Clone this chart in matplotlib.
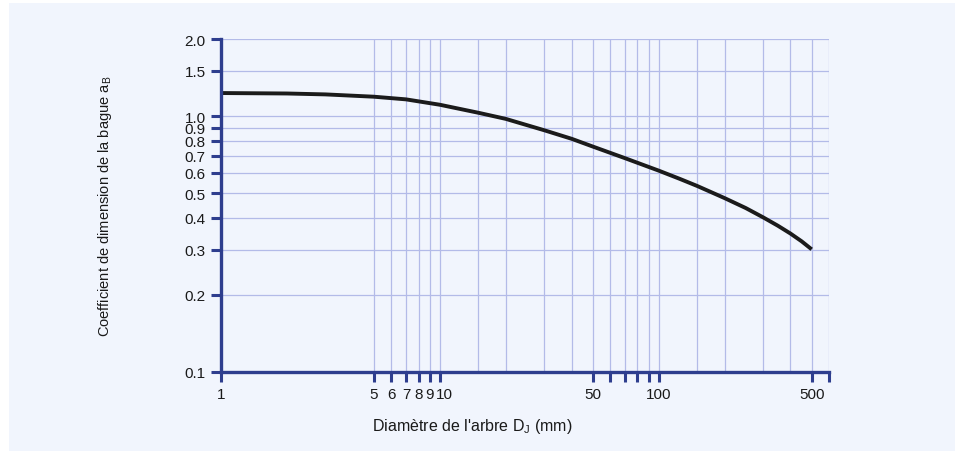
import numpy as np
import matplotlib.pyplot as plt
import matplotlib.transforms as mtransforms
from matplotlib.patches import Rectangle

plt.rcParams['font.family'] = ['Liberation Sans', 'DejaVu Sans']
plt.rcParams['mathtext.fontset'] = 'custom'
plt.rcParams['mathtext.rm'] = 'Liberation Sans'

# courbe
d_mm = [1, 2, 3, 5, 7, 10, 15, 20, 30, 40, 50, 70, 100, 125, 150, 200, 250, 300,
        350, 400, 450, 500]
a_b = [1.23, 1.225, 1.215, 1.19, 1.162, 1.107, 1.03, 0.975, 0.88, 0.815, 0.76, 0.685,
       0.612, 0.568, 0.533, 0.478, 0.437, 0.402, 0.373, 0.3475, 0.324, 0.3015]

x_ticks = [1, 5, 6, 7, 8, 9, 10, 50, 60, 70, 80, 90, 100, 500, 600]
x_labels = ['1', '5', '6', '7', '8', '9', '10', '50', '', '', '', '', '100', '500', '']
x_grid = [5, 6, 7, 8, 9, 10, 15, 20, 30, 40, 50, 60, 70, 80, 90, 100,
          150, 200, 300, 400, 500, 600]
y_ticks = [0.1, 0.2, 0.3, 0.4, 0.5, 0.6, 0.7, 0.8, 0.9, 1.0, 1.5, 2.0]
y_labels = ['0.1', '0.2', '0.3', '0.4', '0.5', '0.6', '0.7', '0.8', '0.9', '1.0', '1.5', '2.0']

bg = '#f1f5fd'
axis_col = '#2e3e8e'
grid_col = '#b3bbe8'

fig = plt.figure(figsize=(9.55, 4.52), dpi=100)
fig.patch.set_facecolor('white')
fig.patches.append(Rectangle((9 / 955, 0), 1, 1 - 4 / 452, transform=fig.transFigure,
                             facecolor=bg, edgecolor='none', zorder=-10))

ax = fig.add_axes([221 / 955, 1 - 373 / 452, 608 / 955, 333 / 452])
ax.set_facecolor(bg)
ax.set_xscale('log')
ax.set_yscale('log')
ax.set_xlim(1, 600)
ax.set_ylim(0.1, 2.0)

for xv in x_grid:
    ax.axvline(xv, color=grid_col, lw=0.9, zorder=1)
for yv in y_ticks[1:]:
    ax.axhline(yv, color=grid_col, lw=0.9, zorder=1)

ax.plot(d_mm, a_b, color='#1b1b1b', lw=2.8, zorder=3, solid_capstyle='butt')

ax.minorticks_off()
ax.set_xticks(x_ticks)
ax.set_xticklabels(x_labels)
ax.set_yticks(y_ticks)
ax.set_yticklabels(y_labels)
ax.tick_params(axis='both', which='major', direction='out', length=7, width=2.2,
               color=axis_col, labelsize=11, labelcolor='#1a1a1a', pad=4)

# "10" est décalé un peu à droite, comme sur l'original
lab10 = ax.get_xticklabels()[6]
lab10.set_transform(lab10.get_transform() +
                    mtransforms.ScaledTranslation(5 / 100, 0, fig.dpi_scale_trans))

for s in ['top', 'right']:
    ax.spines[s].set_visible(False)
for s in ['left', 'bottom']:
    ax.spines[s].set_color(axis_col)
    ax.spines[s].set_linewidth(2.4)
    ax.spines[s].set_zorder(4)

ax.set_xlabel(r"Diamètre de l'arbre D$_\mathregular{J}$ (mm)", fontsize=11.5, color='#1a1a1a')
ax.xaxis.set_label_coords((472 - 221) / 608, -0.133)
ax.set_ylabel(r"Coefficient de dimension de la bague a$_\mathregular{B}$", fontsize=10.5,
              color='#1a1a1a')
ax.yaxis.set_label_coords((114 - 221) / 608, 0.5)

fig.savefig('out.png', dpi=100, facecolor=fig.get_facecolor())
